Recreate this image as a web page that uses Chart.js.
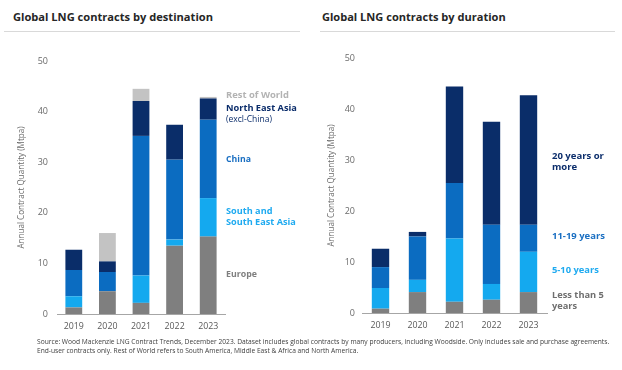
<!DOCTYPE html>
<html><head><meta charset="utf-8">
<script src="https://cdn.jsdelivr.net/npm/chart.js@4/dist/chart.umd.min.js"></script>
<style>
html,body{margin:0;padding:0;background:#fff;width:622px;height:370px;overflow:hidden;font-family:"Open Sans",sans-serif;}
.abs{position:absolute;white-space:nowrap;line-height:1;}
.t{font-weight:700;font-size:12.5px;color:#262626;transform:translateY(-50%);}
.lab{font-weight:700;font-size:9.5px;transform:translateY(-50%);}
.sep{position:absolute;height:1px;background:#d9d9d9;top:31px;}
.fn{font-family:"Open Sans",sans-serif;font-size:7px;color:#404040;transform:translateY(-50%);}
canvas{position:absolute;}
</style></head><body>
<div class="abs t" data-w="200" style="left:13px;top:17px">Global LNG contracts by destination</div>
<div class="abs t" data-w="184" style="left:322px;top:17px">Global LNG contracts by duration</div>
<div class="sep" style="left:4px;width:296px"></div>
<div class="sep" style="left:320px;width:295px"></div>

<canvas id="c1" width="310" height="340" style="left:0;top:0;width:310px;height:340px"></canvas>
<canvas id="c2" width="312" height="340" style="left:310px;top:0;width:312px;height:340px"></canvas>

<div class="abs lab" data-w="63" style="left:226px;top:95px;color:#b3b3b3">Rest of World</div>
<div class="abs lab" data-w="71" style="left:226px;top:108px;color:#0b2d6b">North East Asia</div>
<div class="abs lab" data-w="46" style="left:226px;top:119px;color:#0b2d6b;font-size:7.5px;font-weight:400">(excl-China)</div>
<div class="abs lab" data-w="25" style="left:226px;top:159px;color:#1a6fc2">China</div>
<div class="abs lab" style="left:226px;top:211px;color:#1eaaf0" id="sa">South and</div>
<div class="abs lab" data-w="70" style="left:226px;top:222px;color:#1eaaf0" id="sea">South East Asia</div>
<div class="abs lab" data-w="31" style="left:226px;top:274px;color:#7f7f7f">Europe</div>

<div class="abs lab" data-w="52" style="left:552px;top:156px;color:#0b2d6b" id="y20">20 years or</div>
<div class="abs lab" style="left:552px;top:167px;color:#0b2d6b" id="more">more</div>
<div class="abs lab" data-w="53" style="left:552px;top:236px;color:#1a6fc2">11-19 years</div>
<div class="abs lab" data-w="47" style="left:552px;top:270px;color:#1eaaf0">5-10 years</div>
<div class="abs lab" data-w="52" style="left:552px;top:295px;color:#6f6f6f" id="lt5">Less than 5</div>
<div class="abs lab" style="left:552px;top:306px;color:#6f6f6f" id="yrs">years</div>

<div class="abs fn" data-w="574" style="left:37px;top:342px" id="fn1">Source: Wood Mackenzie LNG Contract Trends, December 2023. Dataset includes global contracts by many producers, including Woodside. Only includes sale and purchase agreements.</div>
<div class="abs fn" style="left:37px;top:351px" id="fn2">End-user contracts only. Rest of World refers to South America, Middle East &amp; Africa and North America.</div>

<script>
const years = ['2019','2020','2021','2022','2023'];
// Destination (Mtpa)
const europe        = [1.3, 4.5, 2.2, 13.5, 15.3];
const southSEAsia   = [2.2, 0.0, 5.4, 1.2, 7.6];
const china         = [5.2, 3.8, 27.6, 15.8, 15.5];
const northEastAsia = [4.0, 2.1, 6.9, 6.9, 4.2];
const restOfWorld   = [0.0, 5.6, 2.4, 0.0, 0.3];
// Duration (Mtpa)
const lessThan5   = [0.85, 4.1, 2.2, 2.6, 4.1];
const years5to10  = [4.05, 2.4, 12.4, 3.1, 7.9];
const years11to19 = [4.1, 8.5, 10.9, 11.6, 5.3];
const years20plus = [3.6, 0.9, 18.9, 20.2, 25.4];
const yTicks = [0, 10, 20, 30, 40, 50];

// fit text widths to the reference
document.querySelectorAll('[data-w]').forEach(el=>{
  const fs=parseFloat(getComputedStyle(el).fontSize);
  const w=el.getBoundingClientRect().width;
  el.style.fontSize=(fs*(+el.dataset.w)/w)+'px';
});
const copyFs=(from,to)=>{document.getElementById(to).style.fontSize=document.getElementById(from).style.fontSize;};
copyFs('sea','sa'); copyFs('y20','more'); copyFs('lt5','yrs'); copyFs('fn1','fn2');

const GRAY='#7f7f7f', LIGHT='#14a9ef', MID='#0b6cc1', NAVY='#0a2d69', LGRAY='#c3c3c3';

function makeChart(id, datasets, opts){
  return new Chart(document.getElementById(id), {
    type:'bar',
    data:{labels:years, datasets:datasets.map(d=>({label:d[0],data:d[1],backgroundColor:d[2],borderWidth:0,
      categoryPercentage:1, barPercentage:opts.bp}))},
    options:{
      responsive:false, animation:false,
      layout:{padding:{top:opts.top,right:opts.right,left:0,bottom:0}},
      plugins:{legend:{display:false},tooltip:{enabled:false}},
      scales:{
        x:{stacked:true, grid:{display:false,drawTicks:false}, border:{display:true,color:'#a6a6a6',width:1},
           ticks:{padding:7,color:'#595959',font:{family:'Open Sans',size:8.8}},
           afterFit(s){s.height=opts.xh;}},
        y:{stacked:true, min:0, max:50, afterBuildTicks(s){s.ticks=yTicks.map(v=>({value:v}));},
           grid:{display:false,drawTicks:false}, border:{display:false},
           ticks:{padding:opts.tp,color:'#6a6a6a',font:{family:'Open Sans',size:9}},
           title:{display:true,text:'Annual Contract Quantity (Mtpa)',color:'#6a6a6a',font:{family:'Open Sans',size:8.1},padding:{top:17,bottom:0}},
           afterFit(s){s.width=opts.yw;}}
      }
    }
  });
}

makeChart('c1', [
  ['Europe',europe,GRAY],
  ['South and South East Asia',southSEAsia,LIGHT],
  ['China',china,MID],
  ['North East Asia (excl-China)',northEastAsia,NAVY],
  ['Rest of World',restOfWorld,LGRAY]
], {bp:0.5, top:61, right:85, xh:26, yw:57, tp:9});

makeChart('c2', [
  ['Less than 5 years',lessThan5,GRAY],
  ['5-10 years',years5to10,LIGHT],
  ['11-19 years',years11to19,MID],
  ['20 years or more',years20plus,NAVY]
], {bp:0.47, top:58, right:75, xh:27, yw:52, tp:7});
</script>
</body></html>
